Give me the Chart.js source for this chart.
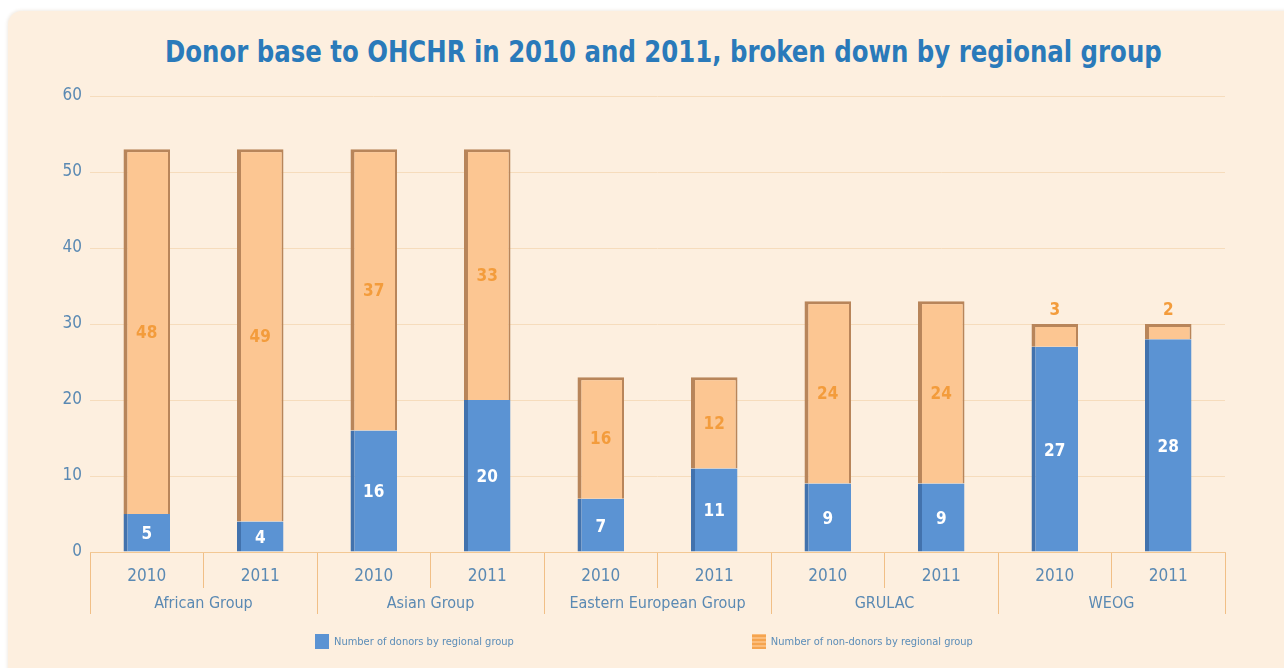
<!DOCTYPE html>
<html lang="en">
<head>
<meta charset="UTF-8">
<title>Donor base to OHCHR in 2010 and 2011</title>
<script src="https://cdn.jsdelivr.net/npm/chart.js"></script>
<style>
  body {
    margin: 0;
    width: 1284px;
    height: 668px;
    overflow: hidden;
    position: relative;
    background: #ffffff;
    font-family: 'DejaVu Sans Condensed', 'DejaVu Sans', sans-serif;
  }
  #panel {
    position: absolute;
    left: 8px; top: 11px; right: -20px; bottom: -20px;
    background: #fdefdf;
    border-top-left-radius: 14px;
    box-shadow: -1px -1px 3px rgba(150, 110, 60, 0.12);
  }
  #title {
    position: absolute;
    top: 33px; left: 165px;
    white-space: nowrap;
    transform: scaleX(0.875);
    transform-origin: left center;
    font-family: 'DejaVu Sans Condensed', 'DejaVu Sans', sans-serif;
    font-weight: bold;
    font-size: 31px;
    color: #2a7aba;
  }
  #chartBox {
    position: absolute;
    left: 0; top: 0;
    width: 1284px; height: 668px;
  }
  #legend {
    position: absolute;
    top: 634px; left: 315px;
    display: flex;
    font-size: 11px;
    color: #5b8db8;
  }
  .item { display: flex; align-items: center; margin-right: 238px; }
  .swatch { width: 14px; height: 15px; margin-right: 5px; }
</style>
</head>
<body>
<div id="panel"></div>
<div id="title">Donor base to OHCHR in 2010 and 2011, broken down by regional group</div>
<div id="chartBox"><canvas id="chart"></canvas></div>
<div id="legend"></div>

<script>
  // data
  const years = ['2010', '2011', '2010', '2011', '2010', '2011', '2010', '2011', '2010', '2011'];
  const groups = ['African Group', 'Asian Group', 'Eastern European Group', 'GRULAC', 'WEOG'];
  const donors = [5, 4, 16, 20, 7, 11, 9, 9, 27, 28];
  const nonDonors = [48, 49, 37, 33, 16, 12, 24, 24, 3, 2];
  const seriesNames = ['Number of donors by regional group', 'Number of non-donors by regional group'];
  const yMin = 0, yMax = 60, yStep = 10;

  const axisText = '#5a89b3';
  const sepColor = '#f1bf86';
  const blue = '#5b93d3';
  const orange = '#fcc692';

  // value labels inside / above the bars
  const valueLabels = {
    id: 'valueLabels',
    afterDatasetsDraw(chart) {
      const ctx = chart.ctx;
      ctx.save();
      ctx.textAlign = 'center';
      ctx.textBaseline = 'middle';
      ctx.font = 'bold 17px "DejaVu Sans Condensed", "DejaVu Sans", sans-serif';
      chart.data.datasets.forEach((ds, i) => {
        const meta = chart.getDatasetMeta(i);
        meta.data.forEach((bar, j) => {
          const h = bar.base - bar.y;
          let y = (bar.y + bar.base) / 2 + 2;
          if (i === 1 && h < 26) y = bar.y - 13;
          ctx.fillStyle = i === 0 ? '#ffffff' : '#f39c3c';
          ctx.fillText(ds.data[j], bar.x, y);
        });
      });
      ctx.restore();
    }
  };

  const chart = new Chart(document.getElementById('chart'), {
    type: 'bar',
    data: {
      labels: years,
      datasets: [
        {
          label: seriesNames[0],
          data: donors,
          backgroundColor: blue,
          borderColor: '#4272ad',
          borderWidth: { left: 4, top: 0, right: 0, bottom: 0 },
          borderSkipped: false,
          barPercentage: 0.41,
          categoryPercentage: 1
        },
        {
          label: seriesNames[1],
          data: nonDonors,
          backgroundColor: orange,
          borderColor: '#b8855a',
          borderWidth: { left: 4, top: 3, right: 2, bottom: 0 },
          borderSkipped: false,
          barPercentage: 0.41,
          categoryPercentage: 1
        }
      ]
    },
    options: {
      responsive: true,
      maintainAspectRatio: false,
      animation: false,
      layout: { padding: { left: 50, right: 59, top: 96, bottom: 50 } },
      plugins: {
        legend: { display: false },
        title: { display: false },
        tooltip: { enabled: false }
      },
      scales: {
        y: {
          stacked: true,
          min: yMin,
          max: yMax,
          ticks: {
            stepSize: yStep,
            padding: 8,
            color: axisText,
            font: { size: 17, family: '"DejaVu Sans Condensed", "DejaVu Sans", sans-serif' }
          },
          grid: { color: '#f6dcbc', drawTicks: false },
          border: { display: false },
          afterFit(s) { s.width = 40; }
        },
        x: {
          stacked: true,
          offset: true,
          grid: { offset: true, drawOnChartArea: false, tickLength: 36, color: sepColor, tickColor: sepColor },
          border: { display: true, color: '#f3c894' },
          ticks: {
            padding: -22,
            autoSkip: false,
            maxRotation: 0,
            color: axisText,
            font: { size: 17, family: '"DejaVu Sans Condensed", "DejaVu Sans", sans-serif' }
          },
          afterFit(s) { s.height = 32; }
        },
        x2: {
          type: 'category',
          labels: groups,
          position: 'bottom',
          offset: true,
          grid: { offset: true, drawOnChartArea: false, tickLength: 30, color: sepColor, tickColor: sepColor },
          border: { display: false },
          ticks: {
            padding: -20,
            autoSkip: false,
            maxRotation: 0,
            color: axisText,
            font: { size: 16, family: '"DejaVu Sans Condensed", "DejaVu Sans", sans-serif' }
          },
          afterFit(s) { s.height = 34; }
        }
      }
    },
    plugins: [valueLabels]
  });

  // legend built from the datasets
  const legend = document.getElementById('legend');
  chart.data.datasets.forEach((ds, i) => {
    const item = document.createElement('div');
    item.className = 'item';
    const sw = document.createElement('span');
    sw.className = 'swatch';
    sw.style.background = i === 0 ? ds.backgroundColor
      : 'repeating-linear-gradient(0deg, #f5a44f 0 2px, #fbbd7c 2px 4px)';
    const txt = document.createElement('span');
    txt.textContent = ds.label;
    item.appendChild(sw);
    item.appendChild(txt);
    legend.appendChild(item);
  });
</script>
</body>
</html>
